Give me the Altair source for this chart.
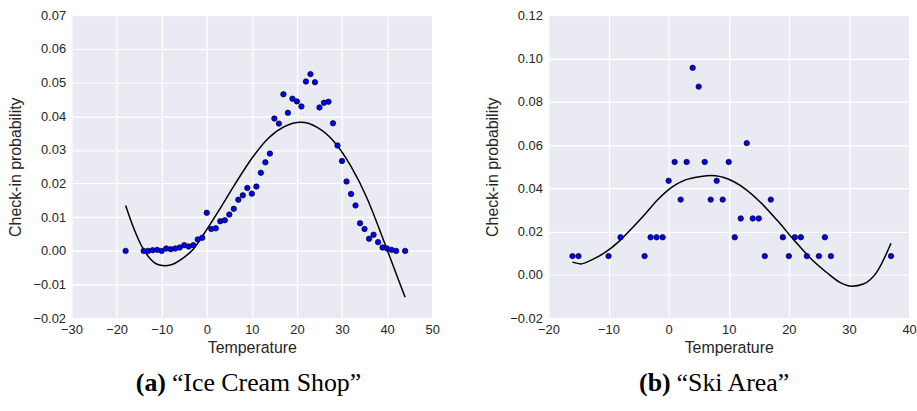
import altair as alt
import pandas as pd

# "Ice Cream Shop": observed check-in probability by temperature
ice_temp = [-18, -14, -13, -12, -11, -10, -9, -8, -7, -6, -5, -4, -3, -2, -1,
            0, 1, 2, 3, 4, 5, 6, 7, 8, 9, 10, 11, 12, 13, 14, 15, 16, 17, 18,
            19, 20, 21, 22, 23, 24, 25, 26, 27, 28, 29, 30, 31, 32, 33, 34,
            35, 36, 37, 38, 39, 40, 41, 42, 44]
ice_prob = [0.0, 0.0, 0.0, 0.0002, 0.0003, 0.0, 0.0007, 0.0005, 0.0007, 0.0010,
            0.0017, 0.0013, 0.0017, 0.0034, 0.0039, 0.0113, 0.0065, 0.0067,
            0.0088, 0.0091, 0.0108, 0.0125, 0.0152, 0.0165, 0.0187, 0.0170,
            0.0191, 0.0232, 0.0263, 0.0289, 0.0393, 0.0378, 0.0465, 0.0410,
            0.0452, 0.0444, 0.0429, 0.0503, 0.0525, 0.0501, 0.0426, 0.0440,
            0.0443, 0.0379, 0.0313, 0.0267, 0.0206, 0.0169, 0.0135, 0.0082,
            0.0065, 0.0036, 0.0048, 0.0026, 0.0010, 0.0007, 0.0003, 0.0, 0.0]

# fitted curve for the ice cream shop
ice_fit_temp = [-18.0, -16.2, -14.4, -12.5, -10.7, -9.1, -7.4, -5.2, -3.0,
                -0.9, 2.6, 6.2, 9.9, 13.6, 17.2, 20.9, 24.6, 28.2, 31.9,
                35.6, 38.5, 40.7, 44.0]
ice_fit_prob = [0.0135, 0.0067, 0.0013, -0.0024, -0.0041, -0.0044, -0.0039,
                -0.0021, 0.0005, 0.0045, 0.0118, 0.0197, 0.0273,
                0.0334, 0.0369, 0.0382, 0.0366, 0.0325, 0.0253, 0.0155,
                0.0057, -0.0021, -0.0138]

# "Ski Area": observed check-in probability by temperature
ski_temp = [-16, -15, -10, -8, -4, -3, -2, -1, 0, 1, 2, 3, 4, 5, 6, 7, 8, 9,
            10, 11, 12, 13, 14, 15, 16, 17, 19, 20, 21, 22, 23, 25, 26, 27, 37]
ski_prob = [0.0087, 0.0087, 0.0087, 0.0174, 0.0087, 0.0174, 0.0174, 0.0174,
            0.0435, 0.0522, 0.0348, 0.0522, 0.0957, 0.0870, 0.0522, 0.0348,
            0.0435, 0.0348, 0.0522, 0.0174, 0.0261, 0.0609, 0.0261, 0.0261,
            0.0087, 0.0348, 0.0174, 0.0087, 0.0174, 0.0174, 0.0087, 0.0087,
            0.0174, 0.0087, 0.0087]

# fitted curve for the ski area
ski_fit_temp = [-16.0, -14.6, -12.7, -10.5, -8.3, -6.1, -3.9, -1.7, 0.5, 2.7,
                5.4, 7.1, 9.9, 12.6, 15.3, 18.1, 20.8, 23.6, 26.4, 28.5, 30.5,
                32.4, 34.6, 37.0]
ski_fit_prob = [0.0059, 0.0051, 0.0071, 0.0105, 0.0154, 0.0216, 0.0282,
                0.0351, 0.0405, 0.0438, 0.0455, 0.0459, 0.0443, 0.0400,
                0.0335, 0.0251, 0.0163, 0.0077, 0.0009, -0.0034, -0.0052,
                -0.0042, 0.0012, 0.0146]

W, H = 363, 305
TEXT = "#262626"
SANS = "Liberation Sans"
SERIF = "Liberation Serif"


def panel(temp, prob, fit_t, fit_p, xdom, xstep, ydom, ystep, tag, name, tag_x):
    pts = pd.DataFrame({"t": temp, "p": prob})
    fit = pd.DataFrame({"t": fit_t, "p": fit_p})
    xvals = list(range(xdom[0], xdom[1] + 1, xstep))
    nsteps = int(round((ydom[1] - ydom[0]) / ystep))
    yvals = [round(ydom[0] + i * ystep, 4) for i in range(nsteps + 1)]

    x = alt.X("t:Q", scale=alt.Scale(domain=xdom, nice=False, zero=False),
              axis=alt.Axis(values=xvals, format="d", title="Temperature",
                            labelFlush=False, labelOverlap=False))
    y = alt.Y("p:Q", scale=alt.Scale(domain=ydom, nice=False, zero=False),
              axis=alt.Axis(values=yvals, format=".2f",
                            title="Check-in probability",
                            labelFlush=False, labelOverlap=False))

    curve = alt.Chart(fit).mark_line(
        color="black", strokeWidth=1.5, interpolate="monotone"
    ).encode(x=x, y=y)

    dots = alt.Chart(pts).mark_point(
        filled=True, fill="#0000ff", stroke="black", strokeWidth=0.7,
        size=30, opacity=1
    ).encode(x=x, y=y)

    cap_y = H + 73
    lab_a = alt.Chart(pd.DataFrame({"s": [tag]})).mark_text(
        font=SERIF, fontSize=26, fontWeight="bold", align="right",
        baseline="alphabetic", color="black"
    ).encode(text="s:N", x=alt.value(tag_x), y=alt.value(cap_y))
    lab_b = alt.Chart(pd.DataFrame({"s": [name]})).mark_text(
        font=SERIF, fontSize=26, align="left", baseline="alphabetic",
        color="black"
    ).encode(text="s:N", x=alt.value(tag_x + 6), y=alt.value(cap_y))

    return alt.layer(curve, dots, lab_a, lab_b).properties(width=W, height=H)


left = panel(ice_temp, ice_prob, ice_fit_temp, ice_fit_prob,
             [-30, 50], 10, [-0.02, 0.07], 0.01,
             "(a)", "\u201cIce Cream Shop\u201d", 95)
right = panel(ski_temp, ski_prob, ski_fit_temp, ski_fit_prob,
              [-20, 40], 10, [-0.02, 0.12], 0.02,
              "(b)", "\u201cSki Area\u201d", 123)

chart = alt.hconcat(left, right, spacing=117, bounds="flush").properties(
    padding={"left": 8, "top": 8, "right": 0, "bottom": 0}
).configure_view(
    fill="#EAEAF2", stroke=None
).configure_axis(
    grid=True, gridColor="white", gridWidth=1.2, domain=False, ticks=False,
    labelFont=SANS, labelFontSize=13, labelColor=TEXT, labelPadding=6,
    titleFont=SANS, titleFontSize=16, titleColor=TEXT, titleFontWeight="normal"
).configure_axisX(
    labelPadding=5, titlePadding=4
).configure_axisY(
    titlePadding=9
)

chart.save("out.html", embed_options={"renderer": "svg", "actions": False})
